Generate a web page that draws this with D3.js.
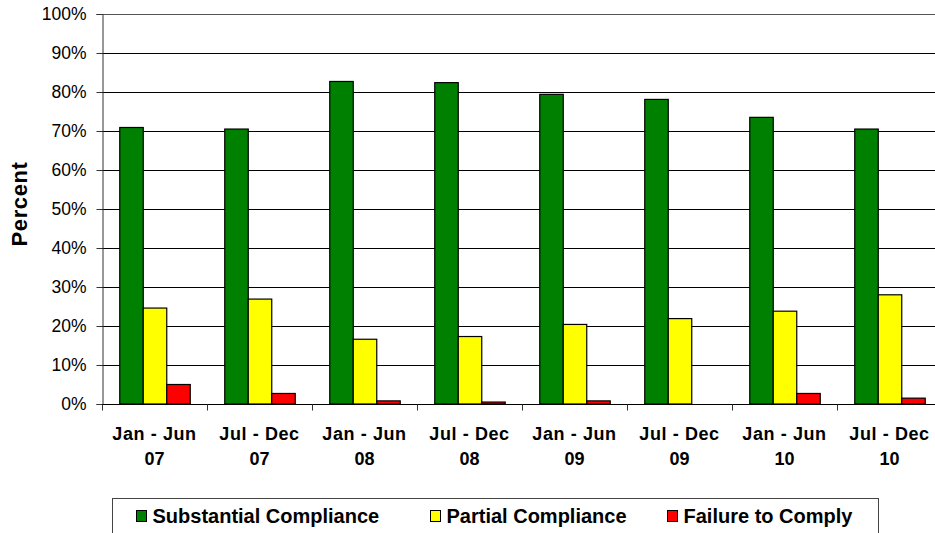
<!DOCTYPE html>
<html>
<head>
<meta charset="utf-8">
<script src="https://cdn.jsdelivr.net/npm/d3@7"></script>
<style>
  body { margin: 0; background: #fff; }
  svg { display: block; font-family: "Liberation Sans", Arial, sans-serif; }
</style>
</head>
<body>
<div id="chart"></div>
<script>
// periods and the three compliance series, in percent
var periods = [["Jan - Jun", "07"], ["Jul - Dec", "07"], ["Jan - Jun", "08"], ["Jul - Dec", "08"],
               ["Jan - Jun", "09"], ["Jul - Dec", "09"], ["Jan - Jun", "10"], ["Jul - Dec", "10"]];
var seriesNames = ["Substantial Compliance", "Partial Compliance", "Failure to Comply"];
var seriesColors = ["#008000", "#ffff00", "#ff0000"];
var substantial = [70.9, 70.5, 82.7, 82.4, 79.4, 78.1, 73.5, 70.5];
var partial = [24.6, 26.9, 16.6, 17.3, 20.4, 21.9, 23.8, 28.0];
var failure = [5.0, 2.7, 0.8, 0.5, 0.8, 0, 2.7, 1.5];
var yTicks = [0, 10, 20, 30, 40, 50, 60, 70, 80, 90, 100];

var seriesValues = [substantial, partial, failure];

var W = 935, H = 533;
var margin = {top: 14, left: 102, bottom: 129},
    plotW = 840,
    plotH = H - margin.top - margin.bottom;

var svg = d3.select("#chart").append("svg")
    .attr("width", W)
    .attr("height", H);

var g = svg.append("g")
    .attr("transform", "translate(" + margin.left + "," + margin.top + ")");

var x0 = d3.scaleBand()
    .domain(d3.range(periods.length))
    .range([0, plotW]);

var x1 = d3.scaleBand()
    .domain(d3.range(seriesNames.length))
    .range([0, x0.bandwidth()])
    .paddingInner(0)
    .paddingOuter(0.734);

var y = d3.scaleLinear()
    .domain([0, 100])
    .range([plotH, 0]);

// gridlines
g.append("g")
    .selectAll("line")
    .data(yTicks.filter(function (d) { return d > 0; }))
    .enter().append("line")
    .attr("x1", 0)
    .attr("x2", plotW)
    .attr("y1", function (d) { return Math.round(y(d)) + 0.5; })
    .attr("y2", function (d) { return Math.round(y(d)) + 0.5; })
    .attr("stroke", function (d) { return d === 100 ? "#555" : "#000"; })
    .attr("stroke-width", 1);

// bars
var groups = g.selectAll(".grp")
    .data(periods)
    .enter().append("g")
    .attr("class", "grp")
    .attr("transform", function (d, i) { return "translate(" + x0(i) + ",0)"; });

groups.selectAll("rect")
    .data(function (d, i) {
        return seriesValues.map(function (s, k) { return {k: k, v: s[i]}; });
    })
    .enter().append("rect")
    .filter(function (d) { return d.v > 0; })
    .attr("x", function (d) { return x1(d.k) + 0.5; })
    .attr("y", function (d) { return y(d.v); })
    .attr("width", x1.bandwidth())
    .attr("height", function (d) { return plotH - y(d.v); })
    .attr("fill", function (d) { return seriesColors[d.k]; })
    .attr("stroke", "#000")
    .attr("stroke-width", 1.2);

// y axis
var yAxis = g.append("g")
    .attr("transform", "translate(0.5,0)")
    .call(d3.axisLeft(y).tickValues(yTicks).tickSize(6).tickPadding(10)
        .tickFormat(function (d) { return d + "%"; }));
yAxis.select(".domain").attr("stroke", "#333");
yAxis.selectAll("line").attr("stroke", "#333");
yAxis.selectAll("text")
    .attr("font-size", 17.5)
    .attr("fill", "#000")
    .attr("font-family", "Liberation Sans, Arial, sans-serif");

// x axis
var xAxis = g.append("g")
    .attr("transform", "translate(0," + (Math.round(plotH) + 0.5) + ")");
xAxis.append("line")
    .attr("x1", 0).attr("x2", plotW)
    .attr("stroke", "#000");
xAxis.selectAll(".tk")
    .data(d3.range(periods.length))
    .enter().append("line")
    .attr("class", "tk")
    .attr("x1", function (d) { return Math.round(x0(d)) + 0.5; })
    .attr("x2", function (d) { return Math.round(x0(d)) + 0.5; })
    .attr("y1", 0).attr("y2", 6)
    .attr("stroke", "#333");

var labels = xAxis.selectAll(".lbl")
    .data(periods)
    .enter().append("text")
    .attr("class", "lbl")
    .attr("text-anchor", "middle")
    .attr("font-weight", "bold")
    .attr("font-size", 18)
    .attr("fill", "#000")
    .attr("transform", function (d, i) { return "translate(" + (x0(i) + x0.bandwidth() / 2) + ",0)"; });
labels.append("tspan").attr("x", 0).attr("y", 35.5).attr("letter-spacing", 0.6).text(function (d) { return d[0]; });
labels.append("tspan").attr("x", 0).attr("y", 60.5).text(function (d) { return d[1]; });

// y title
svg.append("text")
    .attr("transform", "translate(27,204) rotate(-90)")
    .attr("text-anchor", "middle")
    .attr("font-weight", "bold")
    .attr("font-size", 22)
    .attr("letter-spacing", 0.6)
    .attr("fill", "#000")
    .text("Percent");

// legend
var legend = svg.append("g");
legend.append("rect")
    .attr("x", 112.5).attr("y", 498.5)
    .attr("width", 766).attr("height", 40)
    .attr("fill", "#fff")
    .attr("stroke", "#444");

var legendX = [136, 430, 667];
var items = legend.selectAll(".item")
    .data(seriesNames)
    .enter().append("g")
    .attr("transform", function (d, i) { return "translate(" + legendX[i] + ",516)"; });
items.append("rect")
    .attr("x", 0.5).attr("y", -5.5)
    .attr("width", 10).attr("height", 11)
    .attr("fill", function (d, i) { return seriesColors[i]; })
    .attr("stroke", "#000");
items.append("text")
    .attr("x", 16.5)
    .attr("y", 6.5)
    .attr("font-weight", "bold")
    .attr("font-size", 20)
    .attr("fill", "#000")
    .text(function (d) { return d; });
</script>
</body>
</html>
